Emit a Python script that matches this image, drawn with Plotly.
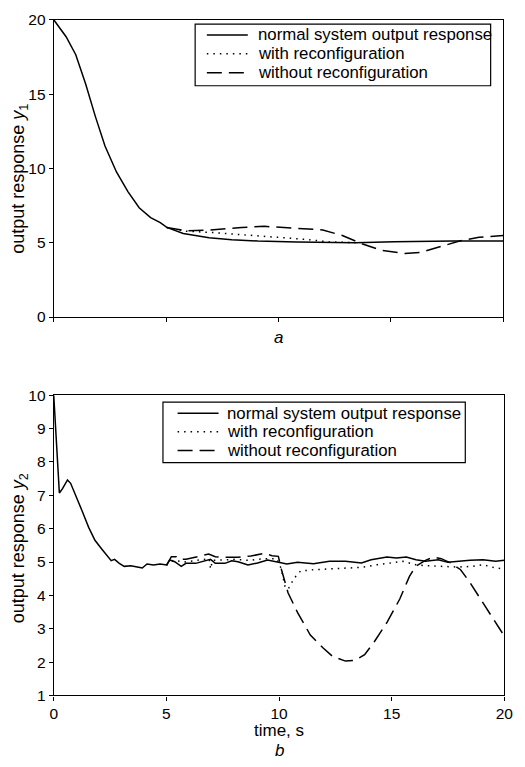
import plotly.graph_objects as go

# ---- Panel a: output response y1 ----
t1_normal = [0, 0.55, 0.98, 1.42, 1.85, 2.28, 2.79, 3.3, 3.8, 4.31, 4.74, 5.03, 5.76, 6.48,
             6.91, 7.92, 9.08, 10.8, 12.26, 13.42, 15.15, 16.6, 17.76, 20]
y1_normal = [20, 18.86, 17.65, 15.68, 13.5, 11.5, 9.76, 8.44, 7.35, 6.69, 6.35, 6.03, 5.62, 5.42,
             5.34, 5.2, 5.11, 5.04, 5.0, 5.0, 5.07, 5.11, 5.11, 5.11]

t1_with = [5.03, 5.9, 6.91, 8.36, 9.8, 11.25, 12.26, 13.42]
y1_with = [6.03, 5.77, 5.70, 5.55, 5.37, 5.22, 5.05, 5.0]

t1_without = [5.03, 5.9, 6.91, 8.36, 9.37, 10.82, 11.97, 12.84, 13.71, 14.58, 15.59, 16.31,
              17.32, 18.05, 18.92, 20]
y1_without = [6.03, 5.8, 5.85, 6.03, 6.1, 5.99, 5.86, 5.48, 4.93, 4.49, 4.28, 4.34,
              4.76, 5.11, 5.37, 5.48]

# ---- Panel b: output response y2 ----
t2_normal = [0, 0.25, 0.39, 0.61, 0.75, 0.97, 1.26, 1.55, 1.83, 2.12, 2.41, 2.55, 2.70, 2.91,
             3.13, 3.42, 3.71, 3.93, 4.14, 4.43, 4.72, 5.01, 5.15, 5.37, 5.66, 5.87, 6.3, 6.74,
             6.96, 7.17, 7.6, 7.9, 8.18, 8.62, 9.05, 9.49, 9.92, 10.35, 10.82, 11.53, 12.24,
             12.95, 13.66, 14.09, 14.79, 15.21, 15.65, 16.08, 16.5, 17.07, 17.49, 17.92, 18.48,
             19.05, 19.62, 20]
y2_normal = [10, 7.07, 7.2, 7.46, 7.36, 7.02, 6.53, 6.04, 5.65, 5.40, 5.16, 5.04, 5.08, 4.96,
             4.87, 4.89, 4.85, 4.82, 4.94, 4.91, 4.94, 4.91, 5.06, 5.01, 4.87, 4.96, 4.96, 5.04,
             5.08, 4.96, 4.96, 5.04, 5.01, 4.91, 4.97, 5.06, 5.01, 4.94, 4.99, 4.95, 5.02,
             5.02, 4.97, 5.07, 5.15, 5.12, 5.15, 5.07, 5.02, 5.07, 4.99, 5.02, 5.05,
             5.07, 5.02, 5.05]

t2_with = [5.01, 5.3, 5.8, 6.3, 6.74, 6.9, 6.96, 7.05, 7.4, 8.0, 8.7, 9.3, 9.9, 10.1, 10.26,
           10.4, 10.68, 10.96, 11.53, 12.24, 12.95, 13.66, 14.37, 15.08, 15.5, 16.07, 16.5,
           17.2, 17.92, 18.62, 19.05, 19.62, 20]
y2_with = [4.91, 5.05, 5.0, 5.05, 5.1, 5.1, 4.79, 5.05, 5.06, 5.08, 5.05, 5.1, 5.1, 4.8, 4.28,
           4.18, 4.52, 4.73, 4.77, 4.79, 4.82, 4.84, 4.92, 4.97, 5.02, 4.92, 4.89,
           4.87, 4.85, 4.87, 4.92, 4.82, 4.79]

t2_without = [5.01, 5.08, 5.22, 5.44, 5.58, 5.87, 6.3, 6.74, 6.88, 7.17, 7.6, 8.18, 8.75, 9.34,
              9.69, 9.97, 10.04, 10.11, 10.4, 10.82, 11.39, 11.96, 12.38, 12.95, 13.38, 13.8,
              14.23, 14.8, 15.36, 15.79, 16.07, 16.5, 16.85, 17.2, 17.63, 18.06, 18.48, 19.05,
              19.62, 20]
y2_without = [4.91, 5.01, 5.16, 5.16, 5.08, 5.08, 5.14, 5.21, 5.24, 5.16, 5.14, 5.14, 5.18, 5.26,
              5.19, 5.17, 4.95, 4.77, 4.08, 3.49, 2.81, 2.42, 2.17, 2.03, 2.05, 2.22,
              2.61, 3.2, 3.89, 4.57, 4.87, 5.05, 5.15, 5.1, 4.97, 4.77, 4.38, 3.79,
              3.2, 2.78]

x_ticks = [0, 5, 10, 15, 20]
names = ["normal system output response", "with reconfiguration", "without reconfiguration"]

W, H = 525, 767
FONT = "Liberation Sans, Arial, Helvetica, sans-serif"
DASH = "15px,7px"
DOT = "1.5px,5px"
LINE_STYLES = [dict(color="black", width=1.5),
               dict(color="black", width=1.5, dash=DOT),
               dict(color="black", width=1.5, dash=DASH)]


def px_x(p):
    return p / W


def px_y(p):
    return 1 - p / H


fig = go.Figure()


def add_set(ts, ys, axx, axy):
    for t, y, nm, st in zip(ts, ys, names, LINE_STYLES):
        fig.add_trace(go.Scatter(x=t, y=y, mode="lines", name=nm, line=st,
                                 xaxis=axx, yaxis=axy, showlegend=False, hoverinfo="skip"))


add_set([t1_normal, t1_with, t1_without], [y1_normal, y1_with, y1_without], "x", "y")
add_set([t2_normal, t2_with, t2_without], [y2_normal, y2_with, y2_without], "x2", "y2")

shapes = []
annotations = []


def boxed_legend(box, rows, sample, text_x, size):
    x0, y0, x1, y1 = box
    shapes.append(dict(type="rect", xref="paper", yref="paper",
                       x0=px_x(x0), x1=px_x(x1), y0=px_y(y1), y1=px_y(y0),
                       line=dict(color="black", width=1.2), fillcolor="white", layer="above"))
    for nm, st, ry in zip(names, LINE_STYLES, rows):
        shapes.append(dict(type="line", xref="paper", yref="paper",
                           x0=px_x(sample[0]), x1=px_x(sample[1]), y0=px_y(ry), y1=px_y(ry),
                           line=st, layer="above"))
        annotations.append(dict(text=nm, xref="paper", yref="paper", x=px_x(text_x),
                                y=px_y(ry), xanchor="left", yanchor="middle", showarrow=False,
                                font=dict(family=FONT, size=size, color="black")))


boxed_legend((196, 15.5, 499, 78.5), (26.5, 45.8, 65.2), (208, 250), 258, 16.8)
boxed_legend((163, 402, 473, 464), (413.3, 432.3, 451.5), (178, 220), 227, 16.8)

annotations += [
    dict(text="<i>a</i>", x=px_x(281), y=px_y(336), xref="paper", yref="paper",
         showarrow=False, xanchor="center", yanchor="middle", font=dict(size=17)),
    dict(text="time, s", x=px_x(282), y=px_y(738), xref="paper", yref="paper",
         showarrow=False, xanchor="center", yanchor="middle", font=dict(size=17)),
    dict(text="<i>b</i>", x=px_x(282), y=px_y(758), xref="paper", yref="paper",
         showarrow=False, xanchor="center", yanchor="middle", font=dict(size=17)),
    dict(text="output response <i>y</i><sub>1</sub>", x=px_x(16), y=px_y(174),
         xref="paper", yref="paper", showarrow=False, textangle=-90,
         xanchor="center", yanchor="middle", font=dict(size=18)),
    dict(text="output response <i>y</i><sub>2</sub>", x=px_x(16), y=px_y(552),
         xref="paper", yref="paper", showarrow=False, textangle=-90,
         xanchor="center", yanchor="middle", font=dict(size=18)),
]

axis_common = dict(showline=True, linecolor="black", linewidth=1.2, mirror=True,
                   ticks="outside", ticklen=4, tickwidth=1, tickcolor="black",
                   showgrid=False, zeroline=False,
                   tickfont=dict(family=FONT, size=15.5, color="black"))

fig.update_layout(
    width=W, height=H,
    margin=dict(l=0, r=0, t=0, b=0),
    paper_bgcolor="white", plot_bgcolor="white",
    font=dict(family=FONT, size=16, color="black"),
    showlegend=False,
    xaxis=dict(domain=[px_x(51), px_x(512)], anchor="y", range=[0, 20], tickvals=x_ticks,
               showticklabels=False, **axis_common),
    yaxis=dict(domain=[px_y(315), px_y(11)], anchor="x", range=[0, 20], dtick=5,
               **axis_common),
    xaxis2=dict(domain=[px_x(51), px_x(513)], anchor="y2", range=[0, 20], tickvals=x_ticks,
                **axis_common),
    yaxis2=dict(domain=[px_y(702), px_y(395)], anchor="x2", range=[1, 10], dtick=1,
                **axis_common),
    shapes=shapes,
    annotations=annotations,
)

fig.write_html("out.html", config={"displayModeBar": False},
               post_script="document.body.style.margin='0';document.body.style.overflow='hidden';")
